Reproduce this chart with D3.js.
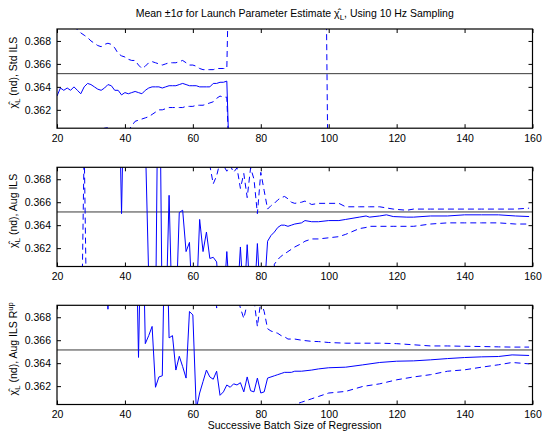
<!DOCTYPE html>
<html><head><meta charset="utf-8">
<script src="https://cdn.jsdelivr.net/npm/d3@7/dist/d3.min.js"></script>
<style>
body{margin:0;background:#fff}
svg{display:block}
text{font-family:"Liberation Sans",Arial,Helvetica,sans-serif;fill:#000}
</style>
</head><body>
<svg id="chart" width="542" height="436"></svg>
<script>
// ---------------- data ----------------
const xTicks = [20, 40, 60, 80, 100, 120, 140, 160];
const yTicks = [0.362, 0.364, 0.366, 0.368];
const refValue = 0.36515;
const titleText = ["Mean \u00b11\u03c3 for Launch Parameter Estimate \u03c7\u0302", "L", ", Using 10 Hz Sampling"];
const xLabelText = "Successive Batch Size of Regression";
const panelLabels = [" (nd), Std ILS", " (nd), Aug ILS", " (nd), Aug ILS R"];
const panelSup = ["", "", "up"];

// Panel 1: Std ILS
const x1 = d3.range(20, 71).concat([71, 99, 100, 160]);
const mean1 = [
  0.3632,0.3639,0.3637,0.3639,0.3637,0.3640,0.3637,0.3634,0.3640,0.3643,
  0.3642,0.3640,0.3638,0.3637,0.3639,0.3642,0.3641,0.3637,0.3637,0.3633,
  0.3635,0.3634,0.3635,0.3636,0.3635,0.3634,0.3637,0.3639,0.3640,0.3640,
  0.3640,0.3639,0.3640,0.3641,0.3641,0.3641,0.3642,0.3643,0.3642,0.3641,
  0.3641,0.3641,0.3640,0.3640,0.3640,0.3640,0.3643,0.3643,0.3644,0.3644,
  0.3645,
  0.355,0.355,0.355,0.355];
const upper1 = [
  0.3715,0.3710,0.3705,0.3700,0.3696,0.3692,0.3690,0.3687,0.3685,0.3683,
  0.3680,0.3678,0.3676,0.3675,0.3677,0.3678,0.3677,0.3674,0.3669,0.3667,
  0.3666,0.3664,0.3663,0.3663,0.3659,0.3656,0.3658,0.3661,0.3662,0.3661,
  0.3660,0.3659,0.3660,0.3661,0.3661,0.3661,0.3662,0.3663,0.3661,0.3659,
  0.3659,0.3658,0.3656,0.3655,0.3655,0.3655,0.3655,0.3656,0.3656,0.3656,
  0.3656,
  0.380,0.380,0.350,0.350];
const lower1 = [
  0.3570,0.3575,0.3578,0.3582,0.3585,0.3588,0.3590,0.3592,0.3594,0.3596,
  0.3598,0.3600,0.3601,0.3602,0.3604,0.36045,0.3601,0.3599,0.3598,0.3597,
  0.3599,0.3602,0.3606,0.3610,0.3611,0.3612,0.3613,0.3614,0.3616,0.3618,
  0.3620,0.3620,0.3621,0.3622,0.3622,0.3622,0.3622,0.3622,0.3623,0.3623,
  0.3623,0.3624,0.3624,0.3624,0.3625,0.3626,0.3627,0.3630,0.3632,0.3631,
  0.3631,
  0.355,0.355,0.355,0.355];

// Panel 2: Aug ILS
const x2 = d3.range(20, 91).concat([92,93,95,97,100,103,105,109,111,112,115,117,119,123,125,130,135,140,145,150,155,159]);
const mean2 = [
  0.38,0.38,0.38,0.38,0.38,0.38,0.38,0.38,0.38,0.38,
  0.38,0.38,0.38,0.38,0.38,0.38,0.38,0.38,0.38,0.3650,
  0.38,0.38,0.38,0.38,0.38,0.38,0.3715,0.3595,0.355,0.355,
  0.385,0.355,0.355,0.3666,0.355,0.356,0.3651,0.3653,0.3617,0.3625,
  0.356,0.357,0.3645,0.3617,0.3634,0.3611,0.3612,0.3608,0.357,0.357,
  0.3617,0.357,0.357,0.357,0.3621,0.357,0.3623,0.357,0.357,0.3624,
  0.357,0.358,0.3626,0.3631,0.3634,0.3638,0.3640,0.3640,0.3639,0.3640,
  0.3641,
  0.3642,0.3644,0.3643,0.3643,0.3644,0.3644,0.3645,0.3647,0.3648,0.3647,0.3648,
  0.3649,0.36475,0.3647,0.3647,0.3648,0.3648,0.3649,0.3649,0.3649,0.3648,0.36475];
const upper2 = [
  0.350,0.350,0.350,0.350,0.350,0.350,0.350,0.350,0.371,0.380,
  0.38,0.38,0.38,0.38,0.38,0.38,0.38,0.38,0.38,0.38,
  0.38,0.38,0.38,0.38,0.38,0.38,0.38,0.38,0.38,0.38,
  0.38,0.38,0.38,0.38,0.38,0.38,0.38,0.38,0.38,0.38,
  0.38,0.38,0.38,0.38,0.38,0.3692,0.3676,0.3683,0.3695,0.3692,
  0.3687,0.3692,0.3686,0.3690,0.3672,0.3685,0.3664,0.3690,0.3680,0.3650,
  0.3686,0.3670,0.3654,0.3657,0.3659,0.3662,0.3664,0.3665,0.3663,0.3660,
  0.3659,
  0.3660,0.3661,0.3658,0.3659,0.3659,0.3659,0.3656,0.3656,0.3656,0.3656,0.3656,
  0.3655,0.3654,0.3653,0.3654,0.3654,0.3654,0.3654,0.3654,0.3654,0.3654,0.36548];
const lower2 = [
  0.371,0.371,0.371,0.371,0.371,0.371,0.371,0.371,0.371,0.350,
  0.350,0.350,0.350,0.350,0.350,0.350,0.350,0.350,0.350,0.350,
  0.350,0.350,0.350,0.350,0.350,0.350,0.350,0.350,0.350,0.350,
  0.350,0.350,0.350,0.350,0.350,0.350,0.350,0.350,0.350,0.350,
  0.350,0.350,0.350,0.350,0.350,0.350,0.350,0.350,0.350,0.350,
  0.350,0.350,0.350,0.350,0.350,0.350,0.350,0.350,0.350,0.350,
  0.350,0.350,0.350,0.350,0.3606,0.3610,0.3613,0.3615,0.3617,0.3619,
  0.3621,
  0.3624,0.3626,0.3628,0.3628,0.3629,0.3630,0.3632,0.3637,0.3638,0.3639,0.3639,
  0.3639,0.3639,0.3639,0.3639,0.3641,0.3642,0.3642,0.3642,0.3642,0.3641,0.3641];

// Panel 3: Aug ILS R^up
const x3 = d3.range(20, 91).concat([92,95,97,100,105,110,115,120,125,130,135,140,145,150,154,159]);
const mean3 = [
  0.38,0.38,0.38,0.38,0.38,0.38,0.38,0.38,0.38,0.38,
  0.38,0.38,0.38,0.38,0.38,0.3687,0.38,0.38,0.38,0.38,
  0.38,0.38,0.38,0.38,0.3645,0.38,0.3657,0.3664,0.3672,0.3619,
  0.3628,0.3629,0.38,0.3662,0.3664,0.3634,0.3646,0.3637,0.3627,0.3685,
  0.3682,0.3600,0.3614,0.3624,0.3634,0.3628,0.3626,0.3633,0.3612,0.3615,
  0.3621,0.3619,0.3622,0.3621,0.3623,0.3615,0.3628,0.3616,0.3615,0.3627,
  0.3614,0.3615,0.3627,0.3628,0.3629,0.3630,0.3631,0.3632,0.3632,0.3632,
  0.3633,
  0.3633,0.3634,0.3635,0.3636,0.36365,0.36385,0.36406,0.36417,0.3642,0.36429,
  0.3644,0.36449,0.36455,0.36458,0.36472,0.36467];
const upper3 = [
  0.38,0.38,0.38,0.38,0.38,0.38,0.38,0.38,0.38,0.38,
  0.38,0.38,0.38,0.38,0.38,0.38,0.38,0.38,0.38,0.38,
  0.38,0.38,0.38,0.38,0.38,0.38,0.38,0.38,0.38,0.38,
  0.38,0.38,0.38,0.38,0.38,0.38,0.38,0.38,0.38,0.38,
  0.38,0.38,0.38,0.38,0.38,0.38,0.38,0.3688,0.38,0.38,
  0.38,0.38,0.38,0.3700,0.3688,0.3679,0.3692,0.3705,0.3695,0.3672,
  0.3694,0.3685,0.3670,0.3668,0.3667,0.3666,0.3664,0.3663,0.3661,0.3661,
  0.3661,
  0.3660,0.3659,0.36588,0.3658,0.36574,0.36574,0.36574,0.3657,0.3656,0.3655,
  0.3655,0.36547,0.36545,0.36542,0.3654,0.3654];
const lower3 = [
  0.355,0.355,0.355,0.355,0.355,0.355,0.355,0.355,0.355,0.355,
  0.355,0.355,0.355,0.355,0.355,0.355,0.355,0.355,0.355,0.355,
  0.355,0.355,0.355,0.355,0.355,0.355,0.355,0.355,0.355,0.355,
  0.355,0.355,0.355,0.355,0.355,0.355,0.355,0.355,0.355,0.355,
  0.355,0.355,0.355,0.355,0.355,0.355,0.355,0.355,0.355,0.355,
  0.355,0.355,0.355,0.355,0.355,0.355,0.355,0.355,0.355,0.355,
  0.355,0.355,0.355,0.355,0.355,0.355,0.355,0.355,0.355,0.3603,
  0.3604,
  0.3606,0.3609,0.3611,0.3614,0.36154,0.36197,0.3622,0.36255,0.3628,0.3630,
  0.3633,0.36342,0.36365,0.36386,0.36406,0.36394];

// ---------------- drawing ----------------
const panels = [
  {x: x1, mean: mean1, upper: upper1, lower: lower1},
  {x: x2, mean: mean2, upper: upper2, lower: lower2},
  {x: x3, mean: mean3, upper: upper3, lower: lower3}
];

const svg = d3.select("#chart");
const left = 57, right = 532.5;
const panelTops = [29, 167.3, 305.3];
const ph = 99.2;
const blue = "#0000ff";
const fs = 10.5;

const x = d3.scaleLinear().domain([20, 160]).range([left, right]);

// title
const title = svg.append("text")
  .attr("x", (left + right) / 2).attr("y", 17)
  .attr("text-anchor", "middle").style("font-size", fs + "px");
title.append("tspan").text(titleText[0]);
title.append("tspan").attr("dy", 3).style("font-size", "8px").text(titleText[1]);
title.append("tspan").attr("dy", -3).text(titleText[2]);

panels.forEach((p, i) => {
  const top = panelTops[i];
  const y = d3.scaleLinear().domain([0.3604, 0.36904]).range([top + ph, top]);
  const g = svg.append("g");

  const clipId = "clip" + i;
  svg.append("clipPath").attr("id", clipId)
    .append("rect").attr("x", left).attr("y", top).attr("width", right - left).attr("height", ph);

  const plot = g.append("g").attr("clip-path", `url(#${clipId})`);

  plot.append("line")
    .attr("x1", left).attr("x2", right)
    .attr("y1", y(refValue)).attr("y2", y(refValue))
    .attr("stroke", "#3a3a3a").attr("stroke-width", 1);

  const line = d3.line().x((d, j) => x(p.x[j])).y(d => y(d));

  [["upper", "6,4"], ["lower", "6,4"], ["mean", null]].forEach(([k, dash]) => {
    plot.append("path")
      .attr("d", line(p[k]))
      .attr("fill", "none")
      .attr("stroke", blue)
      .attr("stroke-width", 1)
      .attr("stroke-dasharray", dash);
  });

  // axes
  const axB = g.append("g").attr("transform", `translate(0,${top + ph})`)
    .call(d3.axisBottom(x).tickValues(xTicks).tickSizeInner(-4).tickSizeOuter(0).tickPadding(6).tickFormat(d3.format("d")));
  const axT = g.append("g").attr("transform", `translate(0,${top})`)
    .call(d3.axisTop(x).tickValues(xTicks).tickSizeInner(-4).tickSizeOuter(0).tickFormat(""));
  const axL = g.append("g").attr("transform", `translate(${left},0)`)
    .call(d3.axisLeft(y).tickValues(yTicks).tickSizeInner(-4).tickSizeOuter(0).tickPadding(6).tickFormat(d3.format(".3f")));
  const axR = g.append("g").attr("transform", `translate(${right},0)`)
    .call(d3.axisRight(y).tickValues(yTicks).tickSizeInner(-4).tickSizeOuter(0).tickFormat(""));
  [axB, axT, axL, axR].forEach(a => {
    a.select(".domain").remove();
    a.selectAll("line").attr("stroke", "#000");
    a.selectAll("text").style("font-size", fs + "px").attr("fill", "#000")
      .style("font-family", '"Liberation Sans",Arial,Helvetica,sans-serif');
  });

  g.append("rect").attr("x", left).attr("y", top)
    .attr("width", right - left).attr("height", ph)
    .attr("fill", "none").attr("stroke", "#000").attr("stroke-width", 1.2);

  // y label
  const lab = g.append("text")
    .attr("transform", `translate(17,${top + ph / 2 - 6}) rotate(-90)`)
    .attr("text-anchor", "middle").style("font-size", fs + "px");
  lab.append("tspan").text("\u03c7\u0302");
  lab.append("tspan").attr("dy", 3).style("font-size", "8px").text("L");
  lab.append("tspan").attr("dy", -3).text(panelLabels[i]);
  if (panelSup[i]) lab.append("tspan").attr("dy", -4).style("font-size", "7.5px").text(panelSup[i]);
});

svg.append("text")
  .attr("x", (left + right) / 2).attr("y", 429)
  .attr("text-anchor", "middle").style("font-size", fs + "px")
  .text(xLabelText);
</script>
</body></html>
